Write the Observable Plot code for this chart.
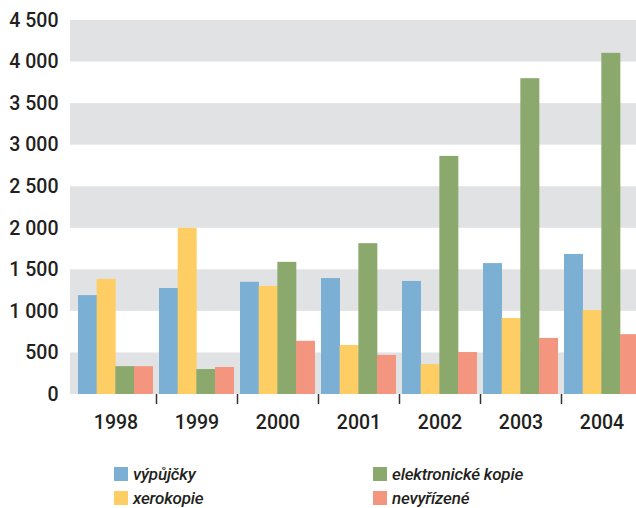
<!DOCTYPE html>
<html>
<head>
<meta charset="utf-8">
<script src="https://cdn.jsdelivr.net/npm/d3@7"></script>
<script src="https://cdn.jsdelivr.net/npm/@observablehq/plot@0.6"></script>
<style>
  html, body { margin: 0; padding: 0; background: #fff; }
  #wrap { position: relative; width: 636px; height: 508px; overflow: hidden; font-family: Roboto, "Liberation Sans", sans-serif; color: #231f20; }
  #chart svg { display: block; }
  .leg { position: absolute; display: flex; align-items: center; font-style: italic; font-weight: 500; font-size: 17px; line-height: 14px; letter-spacing: -0.2px; }
  .sw { width: 14px; height: 14px; margin-right: 5px; flex: none; }
</style>
</head>
<body>
<div id="wrap">
  <div id="chart"></div>
  <div id="legend"></div>
</div>
<script>
const years = ["1998", "1999", "2000", "2001", "2002", "2003", "2004"];
const seriesNames = ["výpůjčky", "xerokopie", "elektronické kopie", "nevyřízené"];
const vypujcky     = [1190, 1275, 1350, 1395, 1360, 1575, 1685];
const xerokopie    = [1385, 2000, 1300,  590,  360,  915, 1010];
const elektronicke = [ 335,  300, 1590, 1815, 2865, 3800, 4105];
const nevyrizene   = [ 335,  325,  640,  470,  505,  675,  720];
const seriesValues = [vypujcky, xerokopie, elektronicke, nevyrizene];
const colors = ["#7bafd4", "#fecd63", "#8ba86d", "#f4967f"];
const yTicks = [0, 500, 1000, 1500, 2000, 2500, 3000, 3500, 4000, 4500];
const bandStarts = [0, 1000, 2000, 3000, 4000];
const bandSize = 500;

const rows = [];
seriesNames.forEach((s, k) => years.forEach((y, i) => rows.push({year: y, series: s, k, value: seriesValues[k][i]})));

const xRange = [71.3, 644.7];
const xPad = 0.078;
const step = (xRange[1] - xRange[0]) / (years.length + xPad);
const bw = step * (1 - xPad);
const sub = bw / seriesNames.length;

const fmt = d => d3.format(",")(d).replace(/,/g, "\u00a0");

const barMarks = seriesNames.map((s, k) =>
  Plot.barY(rows.filter(r => r.k === k), {
    x: "year", y: "value", fill: colors[k],
    insetLeft: k * sub, insetRight: (seriesNames.length - 1 - k) * sub
  })
);

const chart = Plot.plot({
  width: 636,
  height: 440,
  marginLeft: 70,
  marginRight: 0,
  marginTop: 20,
  marginBottom: 46,
  style: { fontFamily: "Roboto, 'Liberation Sans', sans-serif", fontSize: "19.5px", fontWeight: 500, color: "#231f20", background: "white" },
  x: { type: "band", domain: years, range: xRange, padding: xPad, tickSize: 0, tickPadding: 21, label: null },
  y: { domain: [0, 4500], ticks: yTicks, tickFormat: fmt, tickSize: 0, tickPadding: 12, label: null },
  marks: [
    Plot.rect(bandStarts, { y1: d => d, y2: d => d + bandSize, fill: "#e1e2e4" }),
    ...barMarks,
    Plot.ruleX(years.slice(1), { x: d => d, y1: () => 0, y2: () => 0, dx: -step / 2, insetBottom: -10, stroke: "#333", strokeWidth: 1.5 })
  ]
});
document.getElementById("chart").appendChild(chart);

const legendPos = [
  { left: 114, top: 467 }, { left: 114, top: 491 },
  { left: 373, top: 467 }, { left: 373, top: 491 }
];
const legend = document.getElementById("legend");
seriesNames.forEach((s, k) => {
  const d = document.createElement("div");
  d.className = "leg";
  d.style.left = legendPos[k].left + "px";
  d.style.top = legendPos[k].top + "px";
  d.innerHTML = `<span class="sw" style="background:${colors[k]}"></span><span>${s}</span>`;
  legend.appendChild(d);
});
</script>
</body>
</html>
